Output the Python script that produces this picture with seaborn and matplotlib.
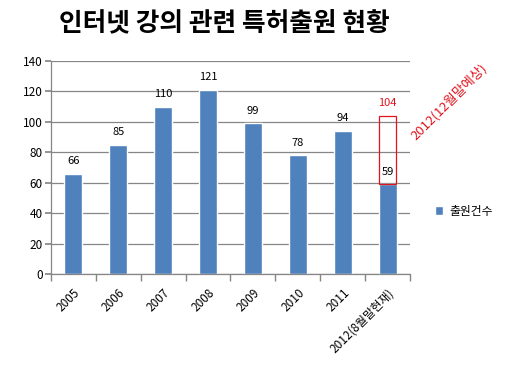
import matplotlib
matplotlib.use("Agg")
import matplotlib.pyplot as plt
import seaborn as sns
import pandas as pd

categories = ["2005", "2006", "2007", "2008", "2009", "2010", "2011", "2012(8월말현재)"]
values = [66, 85, 110, 121, 99, 78, 94, 59]
forecast_value = 104
forecast_label = "2012(12월말예상)"
series_name = "출원건수"
title = "인터넷 강의 관련 특허출원 현황"
yticks = [0, 20, 40, 60, 80, 100, 120, 140]

sns.set_theme(style="white")
plt.rcParams['font.family'] = ['Noto Sans CJK KR', 'DejaVu Sans']
plt.rcParams['text.color'] = 'black'
plt.rcParams['xtick.labelcolor'] = 'black'
plt.rcParams['ytick.labelcolor'] = 'black'

df = pd.DataFrame({"year": categories, "count": values, "series": series_name})

fig = plt.figure(figsize=(5.16, 3.73), dpi=100)
ax = fig.add_axes([0.0988, 0.2654, 0.6958, 0.5711])

sns.barplot(data=df, x="year", y="count", hue="series", palette=["#4F81BD"],
            width=0.4, ax=ax, saturation=1, legend=True)

# forecast outline
ax.bar([len(categories) - 1], [forecast_value - values[-1]], bottom=[values[-1]],
       width=0.38, fill=False, edgecolor="#E0141E", linewidth=0.9, zorder=3)

ax.set_ylim(0, 140)
ax.set_xlim(-0.5, len(categories) - 0.5)
ax.set_yticks(yticks)
ax.yaxis.grid(True, color="#868686", linewidth=0.9)
ax.set_axisbelow(True)
for s in ["top", "right"]:
    ax.spines[s].set_visible(False)
for s in ["left", "bottom"]:
    ax.spines[s].set_color("#868686")
    ax.spines[s].set_linewidth(0.9)
ax.set_xlabel("")
ax.set_ylabel("")

ax.tick_params(axis="y", which="both", left=True, length=4, color="#868686",
               labelsize=8.5, pad=2)
ax.set_xticks(range(len(categories)))
ax.set_xticklabels(categories, rotation=45, ha="right", rotation_mode="anchor", fontsize=8.5)
ax.tick_params(axis="x", which="major", bottom=False, pad=3)
ax.set_xticks([i - 0.5 for i in range(len(categories) + 1)], minor=True)
ax.tick_params(axis="x", which="minor", bottom=True, length=5, color="#868686")

for i, v in enumerate(values):
    ax.text(i, v + 5, str(v), ha="center", va="bottom", fontsize=8, color="black")
ax.text(len(categories) - 1, forecast_value + 5, str(forecast_value), ha="center",
        va="bottom", fontsize=8, color="#E0141E")

fig.text(0.870, 0.728, forecast_label, rotation=45, color="#E0141E", fontsize=9.5,
         ha="center", va="center")

fig.text(0.435, 0.94, title, ha="center", va="center", fontsize=18.5, fontweight="bold",
         color="black")

leg = ax.legend(loc="center left", bbox_to_anchor=(1.04, 0.295), frameon=False,
                fontsize=8.5, handlelength=0.7, handleheight=0.7, handletextpad=0.5)

fig.savefig("out.png", dpi=100)
